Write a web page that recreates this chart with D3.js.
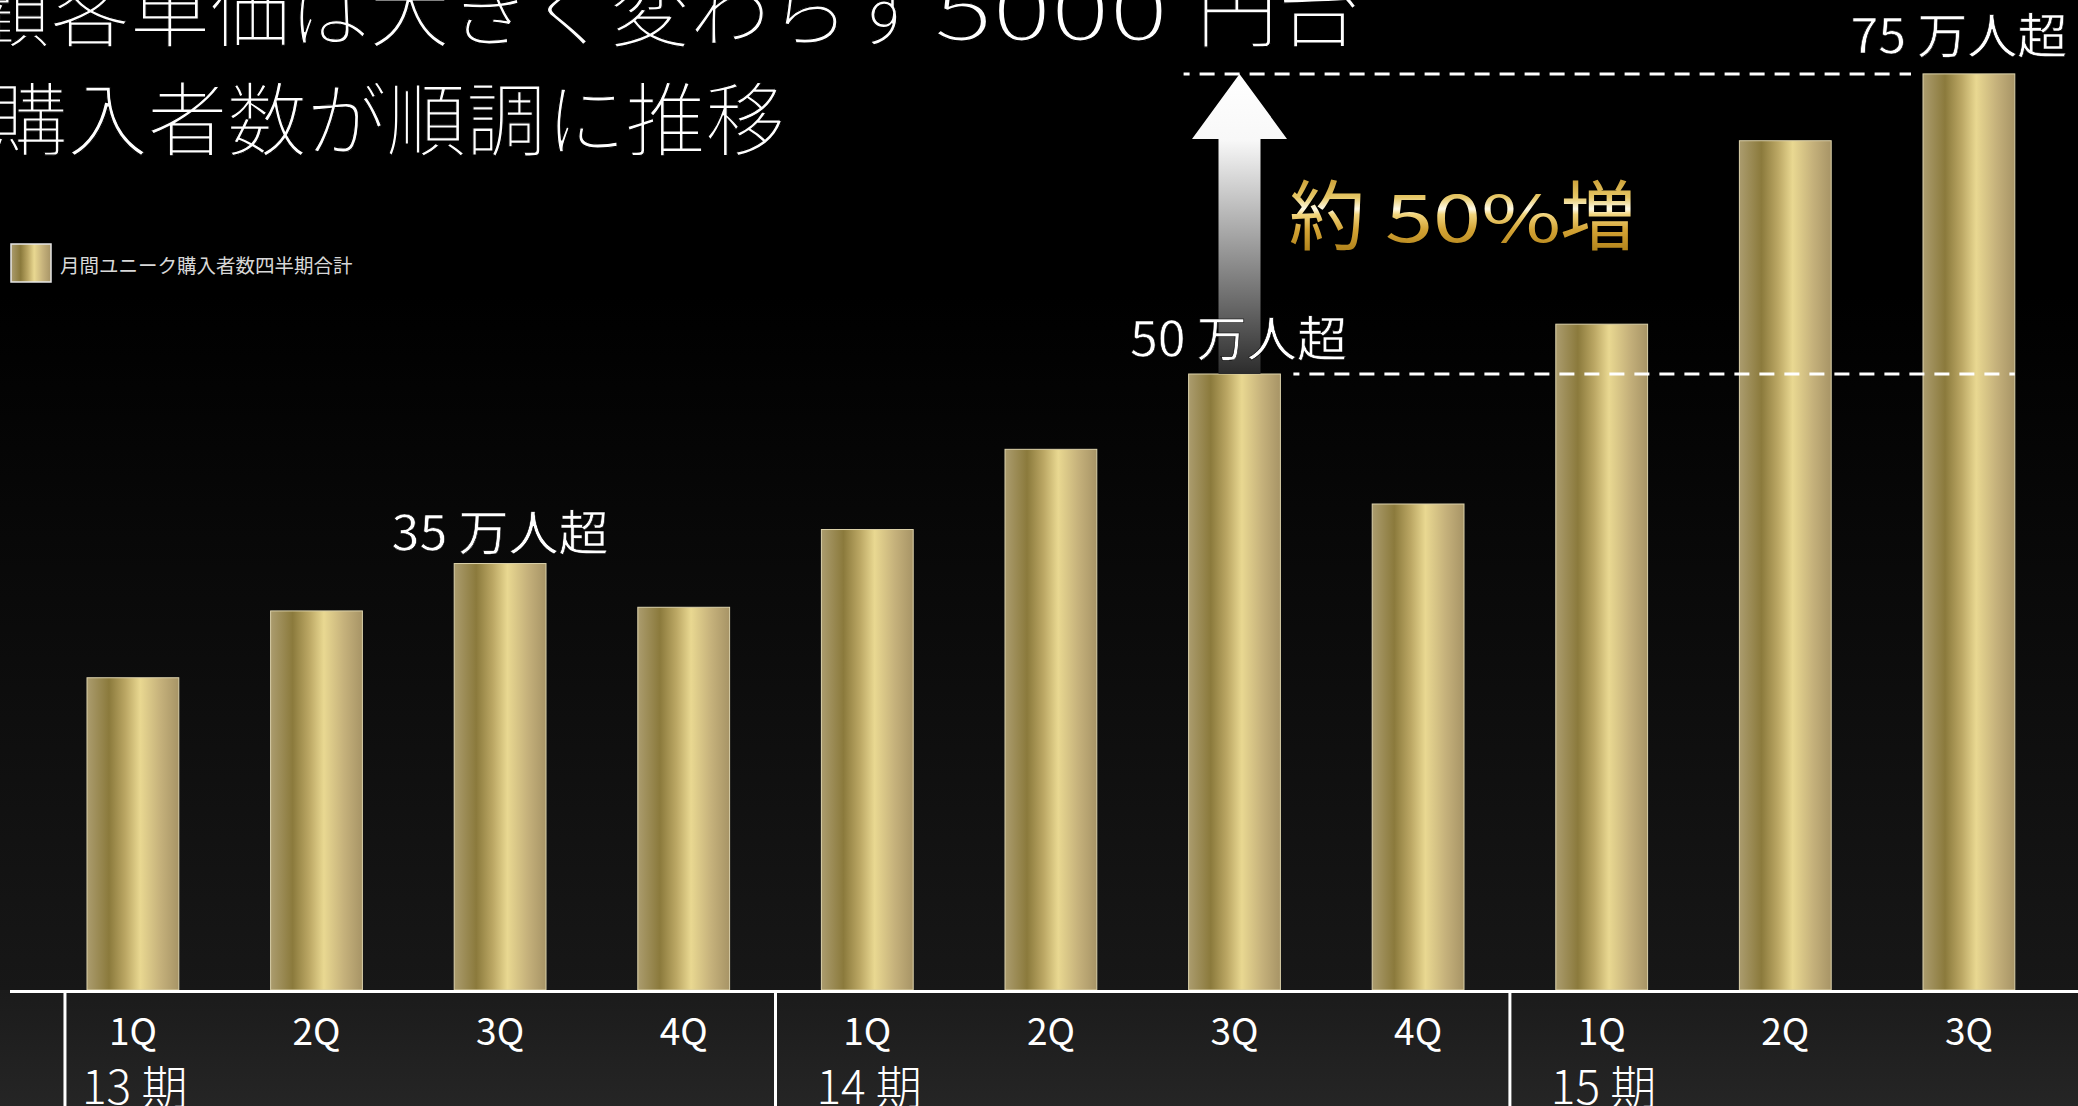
<!DOCTYPE html>
<html lang="ja">
<head>
<meta charset="utf-8">
<title>月間ユニーク購入者数四半期合計</title>
<script src="https://cdn.jsdelivr.net/npm/d3@7/dist/d3.min.js"></script>
<style>
  html, body { margin: 0; padding: 0; background: #000; overflow: hidden; }
  svg { display: block; }
  text { font-family: "Noto Sans CJK JP", "Noto Sans", sans-serif; }
</style>
</head>
<body>
<svg id="chart" width="2078" height="1106"></svg>
<script>
// Quarterly total of monthly unique buyers (unit: 万人)
const quarters = ["1Q", "2Q", "3Q", "4Q", "1Q", "2Q", "3Q", "4Q", "1Q", "2Q", "3Q"];
const periodOf = [0, 0, 0, 0, 1, 1, 1, 1, 2, 2, 2];
const periods = ["13 期", "14 期", "15 期"];
const buyers = [25.7, 31.2, 35.1, 31.5, 37.9, 44.5, 50.7, 40.0, 54.8, 69.9, 75.4];

const calloutIndex = [2, 6, 10];
const calloutText = ["35 万人超", "50 万人超", "75 万人超"];

const titleLine1 = ["顧客単価は大きく変わらず", "5000", "円台"];
const titleLine2 = "購入者数が順調に推移";
const legendLabel = "月間ユニーク購入者数四半期合計";
const growthLabel = ["約", "50%", "増"];

const W = 2078, H = 1106;
const baseY = 990;

const svg = d3.select("#chart");
const defs = svg.append("defs");

// background: black fading to dark grey toward the axis
const bg = defs.append("linearGradient").attr("id", "bgGrad")
  .attr("x1", 0).attr("y1", 0).attr("x2", 0).attr("y2", 1);
bg.append("stop").attr("offset", 0).attr("stop-color", "#000");
bg.append("stop").attr("offset", 0.3).attr("stop-color", "#000");
bg.append("stop").attr("offset", 1).attr("stop-color", "#171717");

const bgLow = defs.append("linearGradient").attr("id", "bgLow")
  .attr("x1", 0).attr("y1", 0).attr("x2", 0).attr("y2", 1);
bgLow.append("stop").attr("offset", 0).attr("stop-color", "#1b1b1b");
bgLow.append("stop").attr("offset", 1).attr("stop-color", "#252525");

// metallic gold for the bars
const gold = defs.append("linearGradient").attr("id", "goldBar")
  .attr("x1", 0).attr("y1", 0).attr("x2", 1).attr("y2", 0);
[[0, "#ab9c6e"], [0.24, "#8b7a3c"], [0.42, "#bba764"], [0.58, "#e9d891"],
 [0.8, "#c5b17b"], [1, "#a79466"]].forEach(([o, c]) =>
  gold.append("stop").attr("offset", o).attr("stop-color", c));

// polished gold for the growth callout
const goldText = defs.append("linearGradient").attr("id", "goldText")
  .attr("gradientUnits", "userSpaceOnUse")
  .attr("x1", 0).attr("y1", 180).attr("x2", 0).attr("y2", 249);
[[0, "#cda23a"], [0.25, "#e6c766"], [0.42, "#fffbe8"], [0.5, "#f1d47c"],
 [0.72, "#d3a334"], [1, "#b4861d"]].forEach(([o, c]) =>
  goldText.append("stop").attr("offset", o).attr("stop-color", c));

svg.append("rect").attr("width", W).attr("height", baseY).attr("fill", "url(#bgGrad)");
svg.append("rect").attr("y", baseY).attr("width", W).attr("height", H - baseY).attr("fill", "url(#bgLow)");

// scales
const x = d3.scaleBand()
  .domain(d3.range(buyers.length))
  .range([41.1, 2060.7])
  .paddingInner(0.5)
  .paddingOuter(0.25);
const bw = x.bandwidth();

const y = d3.scaleLinear().domain([0, 80]).range([baseY, baseY - 80 * 12.15]);

// title (light white lettering; a thin black edge trims the stroke weight)
const title = svg.append("g").attr("fill", "#fff")
  .attr("stroke", "#000").attr("stroke-width", 1.2)
  .attr("font-size", 80).attr("font-weight", 300);
title.append("text").attr("x", -30).attr("y", 40)
  .attr("textLength", 958).attr("lengthAdjust", "spacingAndGlyphs").text(titleLine1[0]);
title.append("text").attr("x", 934).attr("y", 40)
  .attr("textLength", 234).attr("lengthAdjust", "spacingAndGlyphs").text(titleLine1[1]);
title.append("text").attr("x", 1196).attr("y", 40)
  .attr("textLength", 164).attr("lengthAdjust", "spacingAndGlyphs").text(titleLine1[2]);
title.append("text").attr("x", -12).attr("y", 149)
  .attr("textLength", 797).attr("lengthAdjust", "spacingAndGlyphs").text(titleLine2);

// legend
svg.append("rect").attr("x", 11).attr("y", 244).attr("width", 40).attr("height", 38)
  .attr("fill", "url(#goldBar)").attr("stroke", "#e6e6e6").attr("stroke-width", 1.5);
svg.append("text").attr("x", 60).attr("y", 273)
  .attr("font-size", 19.5).attr("fill", "#d8d8d8").text(legendLabel);

// bars
svg.append("g").selectAll("rect")
  .data(buyers)
  .join("rect")
  .attr("x", (d, i) => x(i))
  .attr("y", d => y(d))
  .attr("width", bw)
  .attr("height", d => y(0) - y(d))
  .attr("fill", "url(#goldBar)")
  .attr("stroke", "#dcd2ab")
  .attr("stroke-width", 1);

// baseline
svg.append("line").attr("x1", 10).attr("x2", W)
  .attr("y1", baseY + 1.5).attr("y2", baseY + 1.5)
  .attr("stroke", "#fff").attr("stroke-width", 3);

// quarter labels
svg.append("g").selectAll("text")
  .data(quarters)
  .join("text")
  .attr("x", (d, i) => x(i) + bw / 2)
  .attr("y", 1045)
  .attr("text-anchor", "middle")
  .attr("font-family", "'Noto Sans', sans-serif")
  .attr("font-size", 37)
  .attr("fill", "#fff")
  .text(d => d);

// fiscal period separators and labels
periods.forEach((p, g) => {
  const f = periodOf.indexOf(g);
  const sx = f === 0 ? x(f) - bw * 0.24 : (x(f - 1) + bw + x(f)) / 2;
  svg.append("line").attr("x1", sx).attr("x2", sx)
    .attr("y1", baseY + 2).attr("y2", H)
    .attr("stroke", "#fff").attr("stroke-width", 3);
  svg.append("text").attr("x", x(f) - 5).attr("y", 1104)
    .attr("font-size", 46).attr("font-weight", 300)
    .attr("fill", "#fff")
    .text(p);
});

// reference dashed lines at the 50万 and 75万 levels
const iMid = calloutIndex[1], iTop = calloutIndex[2];
const yMid = y(buyers[iMid]), yTop = y(buyers[iTop]);
svg.append("line")
  .attr("x1", x(iMid) + bw + 13).attr("x2", x(iTop) + bw)
  .attr("y1", yMid).attr("y2", yMid)
  .attr("stroke", "#fff").attr("stroke-width", 3)
  .attr("stroke-dasharray", "15 10").attr("stroke-dashoffset", 9);
svg.append("line")
  .attr("x1", x(iMid) - 5).attr("x2", x(iTop) - 12)
  .attr("y1", yTop).attr("y2", yTop)
  .attr("stroke", "#fff").attr("stroke-width", 3)
  .attr("stroke-dasharray", "15 10").attr("stroke-dashoffset", 9);

// growth arrow from the 50万 bar up to the 75万 level
const ax = x(iMid) + bw / 2 + 5;
const headH = 65, headW = 47.5, shaftW = 21;
const arrowGrad = defs.append("linearGradient").attr("id", "arrowGrad")
  .attr("gradientUnits", "userSpaceOnUse")
  .attr("x1", 0).attr("y1", yTop).attr("x2", 0).attr("y2", yMid);
arrowGrad.append("stop").attr("offset", 0).attr("stop-color", "#ffffff");
arrowGrad.append("stop").attr("offset", 0.22).attr("stop-color", "#f8f8f8");
arrowGrad.append("stop").attr("offset", 1).attr("stop-color", "#2c2c2c");
const ap = d3.path();
ap.moveTo(ax, yTop);
ap.lineTo(ax + headW, yTop + headH);
ap.lineTo(ax + shaftW, yTop + headH);
ap.lineTo(ax + shaftW, yMid);
ap.lineTo(ax - shaftW, yMid);
ap.lineTo(ax - shaftW, yTop + headH);
ap.lineTo(ax - headW, yTop + headH);
ap.closePath();
svg.append("path").attr("d", ap.toString()).attr("fill", "url(#arrowGrad)");

// value callouts above the highlighted bars
const calloutDx = [0, 4, -10];
const calloutDy = [14, 18, 21];
calloutIndex.forEach((idx, k) => {
  svg.append("text")
    .attr("x", x(idx) + bw / 2 + calloutDx[k])
    .attr("y", y(buyers[idx]) - calloutDy[k])
    .attr("text-anchor", "middle")
    .attr("font-size", 48)
    .attr("fill", "#fff")
    .attr("stroke", "#000").attr("stroke-width", 0.6)
    .attr("textLength", 217)
    .attr("lengthAdjust", "spacingAndGlyphs")
    .text(calloutText[k]);
});

// growth callout in gold
const growth = svg.append("g").attr("fill", "url(#goldText)");
growth.append("text").attr("x", 1289).attr("y", 244).attr("font-size", 76).text(growthLabel[0]);
growth.append("text").attr("x", 1385).attr("y", 242).attr("font-size", 64)
  .attr("font-family", "'Noto Sans', sans-serif")
  .attr("textLength", 176).attr("lengthAdjust", "spacingAndGlyphs").text(growthLabel[1]);
growth.append("text").attr("x", 1560).attr("y", 244).attr("font-size", 76).text(growthLabel[2]);
</script>
</body>
</html>
